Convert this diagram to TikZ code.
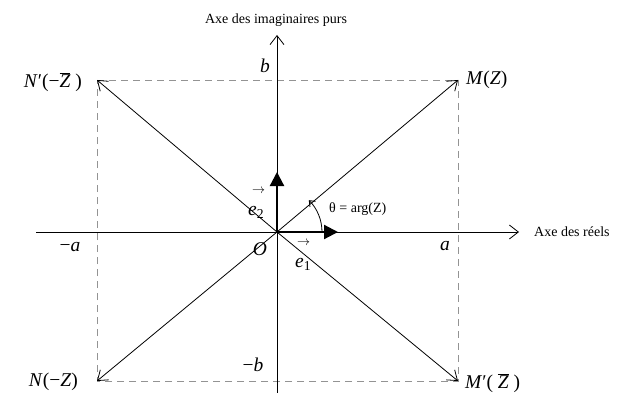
\documentclass[tikz,border=0pt]{standalone}
\usepackage{fontspec}
\setmainfont{Liberation Serif}
\usetikzlibrary{arrows.meta}
\newcommand{\mylab}{\fontsize{19.5}{22}\selectfont}
\newcommand{\mytxt}{\fontsize{14}{16}\selectfont}
\newcommand{\zbar}{$\overline{\mbox{\itshape Z}}$}
\newcommand{\vecarrow}[1]{\rlap{\hspace{#1}\raisebox{22pt}{\resizebox{13pt}{!}{$\rightarrow$}}}}
\tikzset{
  axisline/.style={line width=0.8pt, -{Straight Barb[length=9pt,width=14pt]}},
  diagline/.style={line width=0.8pt, -{Straight Barb[length=9pt,width=13pt]}},
  guide/.style={gray!85, dash pattern=on 7pt off 5pt, line width=0.8pt},
  unitvec/.style={line width=2.2pt, -{Triangle[length=14pt,width=14pt]}},
  lbl/.style={inner sep=0pt, font=\mylab},
  txt/.style={inner sep=0pt, font=\mytxt},
}
\begin{document}
\begin{tikzpicture}[x=1pt,y=-1pt]
\useasboundingbox (0,0) rectangle (621,393);
% key points
\coordinate (O) at (277,232);
\coordinate (M) at (458,80);
\coordinate (Np) at (97,80);
\coordinate (N) at (97,381);
\coordinate (Mp) at (458,381);
\coordinate (xs) at (36,232);
\coordinate (xe) at (519,232);
\coordinate (ys) at (277,393);
\coordinate (ye) at (277,35);
\coordinate (e1t) at (338,232);
\coordinate (e2t) at (277,172);
% dashed rectangle
\draw[guide] (Np) -- (M) -- (Mp) -- (N) -- cycle;
% axes
\draw[axisline] (xs) -- (xe);
\draw[axisline] (ys) -- (ye);
% diagonals
\draw[diagline] (O) -- (M);
\draw[diagline] (O) -- (Np);
\draw[diagline] (O) -- (N);
\draw[diagline] (O) -- (Mp);
% unit vectors
\draw[unitvec] (O) -- (e1t);
\draw[unitvec] (O) -- (e2t);
% angle arc
\draw[line width=0.8pt, -{Straight Barb[length=5pt,width=8pt]}] (O) ++(45,0) arc[start angle=0, end angle=-45, radius=45];
% labels
\node[txt] (ylab) at (276,20) {Axe des imaginaires purs};
\node[txt, anchor=west] (xlab) at (534,232) {Axe des réels};
\node[lbl] (bl) at (265,66) {\textit{b}};
\node[lbl] (mbl) at (253,365) {−\textit{b}};
\node[lbl] (al) at (445,246) {\textit{a}};
\node[lbl] (mal) at (70,247) {−\textit{a}};
\node[lbl] (Ol) at (260,249) {\textit{O}};
\node[txt, anchor=west] (thl) at (329,209) {θ = arg(Z)};
\node[lbl, anchor=west] (Ml) at (466,80) {\textit{M}(\textit{Z})};
\node[lbl, anchor=east] (Npl) at (82,82) {\textit{N}′(−\zbar\ )};
\node[lbl, anchor=east] (Nl) at (78,382) {\textit{N}(−\textit{Z})};
\node[lbl, anchor=west] (Mpl) at (465,383) {\textit{M}′(\ \zbar\ )};
\node[lbl, anchor=base west] (e2l) at (248,215) {\vecarrow{4pt}\textit{e}\textsubscript{2}};
\node[lbl, anchor=base west] (e1l) at (295,267) {\vecarrow{2pt}\textit{e}\textsubscript{1}};
\end{tikzpicture}
\end{document}
